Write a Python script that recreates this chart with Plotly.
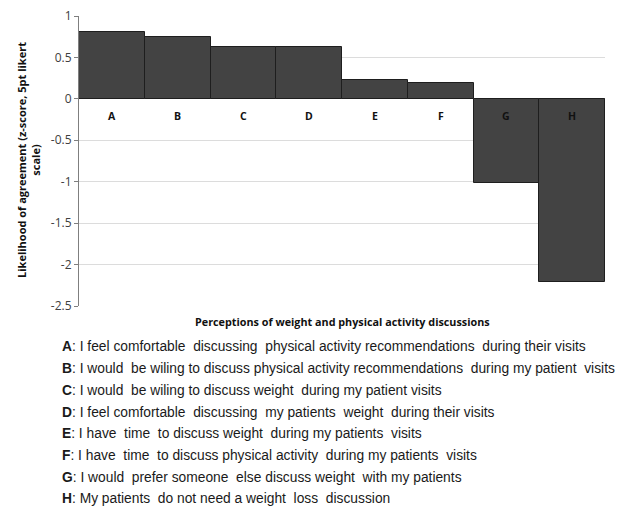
import plotly.graph_objects as go

categories = ["A", "B", "C", "D", "E", "F", "G", "H"]
values = [0.81, 0.75, 0.63, 0.63, 0.23, 0.19, -1.01, -2.21]
descriptions = [
    "I feel comfortable  discussing  physical activity recommendations  during their visits",
    "I would  be wiling to discuss physical activity recommendations  during my patient  visits",
    "I would  be wiling to discuss weight  during my patient visits",
    "I feel comfortable  discussing  my patients  weight  during their visits",
    "I have  time  to discuss weight  during my patients  visits",
    "I have  time  to discuss physical activity  during my patients  visits",
    "I would  prefer someone  else discuss weight  with my patients",
    "My patients  do not need a weight  loss  discussion",
]
y_ticks = [1, 0.5, 0, -0.5, -1, -1.5, -2, -2.5]

W, H = 621, 506
L, R, T, B = 79, 16, 16, 200
plot_h = H - T - B
plot_w = W - L - R


def px_x(p):
    return (p - L) / plot_w


def px_y(p):
    return (H - B - p) / plot_h


fig = go.Figure()
fig.add_trace(go.Bar(
    x=categories, y=values,
    marker=dict(color="#434343", line=dict(color="#1e1e1e", width=1)),
    width=1.0,
    hoverinfo="skip",
))

annotations = []
for c in categories:
    annotations.append(dict(
        x=c, y=0, xref="x", yref="y", text="<b>%s</b>" % c, showarrow=False,
        yanchor="middle", yshift=-17,
        font=dict(family="Open Sans", size=10.5, color="#111111"),
    ))

annotations.append(dict(
    x=px_x(342), y=px_y(321), xref="paper", yref="paper",
    text="<b>Perceptions of weight and physical activity discussions</b>",
    showarrow=False, xanchor="center", yanchor="middle",
    font=dict(family="Open Sans", size=10.8, color="#111111"),
))

annotations.append(dict(
    x=px_x(28), y=px_y(160), xref="paper", yref="paper",
    text="<b>Likelihood of agreement (z-score, 5pt likert<br>scale)</b>",
    showarrow=False, xanchor="center", yanchor="middle", textangle=-90,
    font=dict(family="Open Sans", size=11, color="#111111"),
))

line_y = [346, 368, 390, 412, 433, 455, 477, 499]
for c, d, yp in zip(categories, descriptions, line_y):
    annotations.append(dict(
        x=px_x(60), y=px_y(yp), xref="paper", yref="paper",
        text="<b>%s</b>: %s" % (c, d.replace("  ", "\u00a0 ")),
        showarrow=False, xanchor="left", yanchor="middle",
        font=dict(family="Liberation Sans", size=13.8, color="#1a1a1a"),
    ))

fig.update_layout(
    width=W, height=H,
    margin=dict(l=L, r=R, t=T, b=B, autoexpand=False),
    paper_bgcolor="white", plot_bgcolor="white",
    showlegend=False,
    bargap=0,
    annotations=annotations,
    xaxis=dict(showticklabels=False, showgrid=False, zeroline=False, showline=False,
               range=[-0.5, 7.5]),
    yaxis=dict(
        range=[-2.5, 1], tickvals=y_ticks, ticktext=[str(v) for v in y_ticks],
        showgrid=True, gridcolor="#dcdcdc", gridwidth=1,
        zeroline=True, zerolinecolor="#9a9a9a", zerolinewidth=1,
        showline=True, linecolor="#7f7f7f", linewidth=1,
        ticks="outside", ticklen=4, tickcolor="#7f7f7f",
        tickfont=dict(family="Open Sans", size=12, color="#404040"),
        automargin=False,
    ),
)

fig.write_html(
    "out.html",
    config={"displayModeBar": False},
    post_script="document.body.style.margin='0';document.body.style.overflow='hidden';",
)
